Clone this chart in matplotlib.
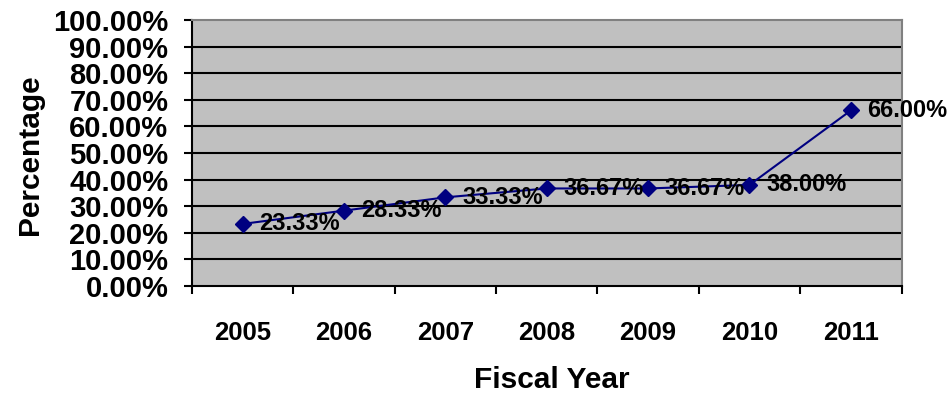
import matplotlib

matplotlib.use("Agg")
import matplotlib.pyplot as plt
import numpy as np
from matplotlib.ticker import FixedLocator

years = ["2005", "2006", "2007", "2008", "2009", "2010", "2011"]
pct = [23.33, 28.33, 33.33, 36.67, 36.67, 38.00, 66.00]
y_ticks = list(range(0, 101, 10))

plt.rcParams["font.family"] = ["Liberation Sans", "DejaVu Sans"]
plt.rcParams["font.weight"] = "bold"

fig = plt.figure(figsize=(9.5, 3.97), dpi=100)
ax = fig.add_axes([0.202, 0.2796, 0.747, 0.67])
ax.set_facecolor("#c0c0c0")

x = np.arange(len(years))
ax.set_xlim(-0.5, len(years) - 0.5)
ax.set_ylim(0, 100)

# horizontal gridlines
for v in y_ticks[1:-1]:
    ax.axhline(v, color="black", linewidth=1.5, zorder=1)

ax.plot(x, pct, color="#000080", linewidth=1.5, marker="D", markersize=8,
        markerfacecolor="#000080", markeredgecolor="#000080", zorder=3)

for xi, v in zip(x, pct):
    ax.annotate(f"{v:.2f}%", (xi, v), xytext=(12, 0), textcoords="offset points",
                ha="left", va="center", fontsize=17, fontweight="bold",
                color="black", zorder=4, annotation_clip=False)

ax.set_yticks(y_ticks)
ax.set_yticklabels([f"{v:.2f}%" for v in y_ticks], fontsize=21, fontweight="bold")
ax.set_xticks(x)
ax.set_xticklabels(years, fontsize=18.5, fontweight="bold")
ax.xaxis.set_minor_locator(FixedLocator(np.arange(-0.5, len(years), 1.0)))

ax.tick_params(axis="y", length=6, width=1.5, pad=11, direction="out")
ax.tick_params(axis="x", which="major", length=0, pad=25)
ax.tick_params(axis="x", which="minor", length=6, width=1.5, direction="out")

for side in ("left", "bottom"):
    ax.spines[side].set_color("black")
    ax.spines[side].set_linewidth(1.5)
for side in ("top", "right"):
    ax.spines[side].set_color("#808080")
    ax.spines[side].set_linewidth(1.5)

fig.text(0.581, 0.043, "Fiscal Year", ha="center", va="center",
         fontsize=21.5, fontweight="bold")
fig.text(0.032, 0.61, "Percentage", ha="center", va="center",
         rotation=90, fontsize=21.5, fontweight="bold")

fig.savefig("out.png", dpi=100)
